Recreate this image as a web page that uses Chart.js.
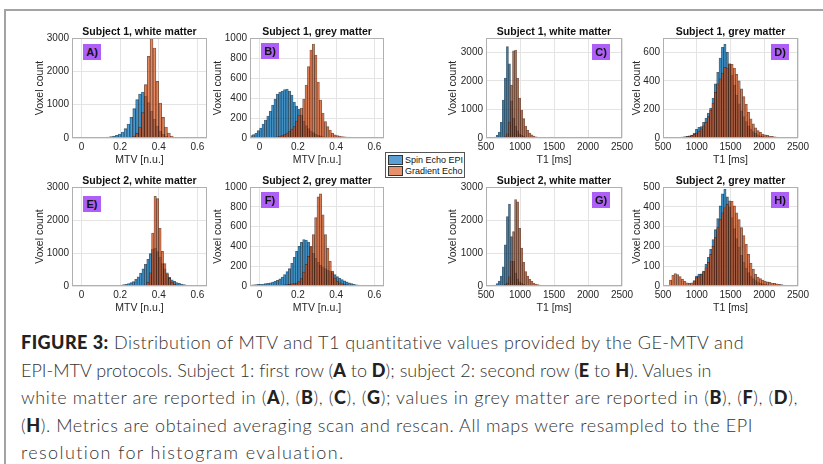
<!DOCTYPE html>
<html>
<head>
<meta charset="utf-8">
<script src="https://cdn.jsdelivr.net/npm/chart.js@4.4.1/dist/chart.umd.min.js"></script>
<style>
  html, body { margin: 0; padding: 0; background: #fff; }
  body { width: 823px; height: 464px; overflow: hidden; position: relative; }
  #frame { position: absolute; left: 4px; top: 9px; width: 900px; height: 600px;
           border-top: 2px solid #a3a3a3; border-left: 2px solid #a3a3a3; }
  canvas { position: absolute; }
  .tag { position: absolute; width: 18px; height: 16px; background: #ad5ff7;
         font: bold 11px "Liberation Sans", Arial, sans-serif; color: #111;
         line-height: 16px; text-align: center; }
  #legend { position: absolute; left: 385px; top: 152px; width: 78px; height: 24px;
            border: 1px solid #555; background: #fff;
            font: 9px "Liberation Sans", Arial, sans-serif; color: #111; }
  #legend .row { position: absolute; left: 2px; height: 11px; line-height: 10px; white-space: nowrap; }
  #legend .sw { display: inline-block; width: 13px; height: 8px; border: 1px solid #333;
                vertical-align: top; margin-right: 2px; }
  #caption { position: absolute; left: 21px; top: 329px;
             font: 300 18px Lato, "Open Sans", sans-serif; color: #333; }
  #caption .line { height: 27.5px; line-height: 27.5px; white-space: nowrap; }
  #caption .line span { display: inline-block; }
  #caption b { font-weight: 900; color: #222; }
</style>
</head>
<body>
<div id="frame"></div>
<div id="figure"></div>

<div class="tag" style="left:83px;top:44px">A)</div>
<div class="tag" style="left:261px;top:43px">B)</div>
<div class="tag" style="left:592px;top:44px">C)</div>
<div class="tag" style="left:771px;top:44px">D)</div>
<div class="tag" style="left:83px;top:196px">E)</div>
<div class="tag" style="left:261px;top:192px">F)</div>
<div class="tag" style="left:592px;top:192px">G)</div>
<div class="tag" style="left:771px;top:192px">H)</div>

<div id="legend">
  <div class="row" style="top:2px"><span class="sw" style="background:rgb(90,160,212)"></span>Spin Echo EPI</div>
  <div class="row" style="top:13px"><span class="sw" style="background:rgb(230,145,108)"></span>Gradient Echo</div>
</div>

<div id="caption">
  <div class="line"><span data-w="724"><b>FIGURE 3:</b> Distribution of MTV and T1 quantitative values provided by the GE-MTV and</span></div>
  <div class="line"><span data-w="690">EPI-MTV protocols. Subject 1: first row (<b>A</b> to <b>D</b>); subject 2: second row (<b>E</b> to <b>H</b>). Values in</span></div>
  <div class="line"><span data-w="776">white matter are reported in (<b>A</b>), (<b>B</b>), (<b>C</b>), (<b>G</b>); values in grey matter are reported in (<b>B</b>), (<b>F</b>), (<b>D</b>),</span></div>
  <div class="line"><span data-w="732">(<b>H</b>). Metrics are obtained averaging scan and rescan. All maps were resampled to the EPI</span></div>
  <div class="line"><span data-w="374">resolution for histogram evaluation.</span></div>
</div>

<script>
// ===== Ticks =====
const mtvTicks = [0, 0.2, 0.4, 0.6];
const t1Ticks = [500, 1000, 1500, 2000, 2500];
const ticks3000 = [0, 1000, 2000, 3000];
const ticks1000 = [0, 200, 400, 600, 800, 1000];
const ticks600 = [0, 200, 400, 600];
const ticks500 = [0, 100, 200, 300, 400, 500];
const seriesNames = ['Spin Echo EPI', 'Gradient Echo'];

// ===== Histogram counts, one bin per entry =====
// A) subject 1, white matter, MTV
const aBinStart = 0.07, aBinWidth = 0.015;
const aSpinEcho = [7, 10, 14, 20, 28, 40, 55, 80, 120, 180, 280, 420, 620, 880, 1150,
  1320, 1380, 1260, 1060, 800, 560, 360, 210, 120, 60, 30, 12, 5];
const aGradEcho = [0, 0, 0, 0, 0, 0, 0, 0, 0, 5, 10, 18, 30, 60, 140,
  330, 760, 1600, 2450, 2990, 2700, 1700, 1050, 620, 330, 150, 60, 20];

// B) subject 1, grey matter, MTV
const bBinStart = -0.05, bBinWidth = 0.0125;
const bSpinEcho = [25, 35, 50, 75, 100, 140, 180, 220, 270, 330, 390, 440, 460, 470, 485,
  490, 470, 430, 360, 320, 290, 230, 170, 125, 95, 70, 55, 40, 30, 22,
  15, 10, 8, 5, 4, 3, 2, 2, 1, 1, 1, 0, 0, 0, 0, 0, 0, 0, 0, 0, 0, 0];
const bGradEcho = [0, 0, 0, 0, 0, 0, 0, 2, 3, 5, 8, 12, 18, 25, 35,
  50, 65, 90, 115, 170, 230, 300, 390, 530, 715, 880, 940, 830, 560, 380,
  250, 165, 115, 80, 50, 32, 25, 20, 15, 12, 10, 8, 7, 6, 5, 4, 3, 2, 2, 1, 1, 0];

// C) subject 1, white matter, T1
const cBinStart = 560, cBinWidth = 30;
const cSpinEcho = [5, 15, 35, 90, 210, 550, 1330, 2100, 3200, 2600, 1300, 700, 420, 250, 150,
  90, 55, 35, 22, 14, 9, 6, 4, 2, 1, 0, 0, 0, 0, 0, 0];
const cGradEcho = [0, 0, 0, 0, 0, 3, 10, 40, 150, 560, 1850, 3050, 3080, 2100, 1400,
  980, 680, 420, 270, 170, 110, 70, 45, 30, 20, 14, 10, 7, 5, 3, 2];

// D) subject 1, grey matter, T1
const dBinStart = 560, dBinWidth = 35;
const dSpinEcho = [1, 1, 2, 2, 3, 4, 6, 8, 11, 15, 20, 35, 60, 75, 80,
  110, 140, 175, 210, 280, 380, 460, 560, 635, 655, 600, 520, 440, 370, 300,
  240, 190, 150, 115, 85, 62, 45, 32, 23, 16, 11, 8, 6, 4, 3, 2, 2, 1, 1, 0, 0, 0];
const dGradEcho = [2, 3, 3, 4, 5, 5, 6, 8, 10, 14, 18, 25, 35, 48, 65,
  85, 110, 150, 195, 245, 320, 380, 415, 455, 495, 490, 520, 515, 490, 445,
  400, 345, 290, 235, 180, 135, 100, 72, 52, 40, 28, 22, 18, 14, 11, 9, 7, 5, 3, 2, 1, 1];

// E) subject 2, white matter, MTV
const eBinStart = 0.1, eBinWidth = 0.0125;
const eSpinEcho = [3, 4, 5, 7, 9, 12, 16, 22, 30, 40, 50, 75, 100, 135, 200,
  280, 390, 520, 660, 810, 980, 1120, 1150, 1040, 870, 680, 520, 360, 260, 190,
  140, 105, 80, 60, 42, 30, 20, 12, 6, 3];
const eGradEcho = [0, 0, 0, 0, 0, 0, 0, 0, 0, 0, 0, 0, 0, 0, 2,
  3, 5, 10, 30, 110, 400, 1600, 2720, 2650, 1750, 1050, 680, 400, 230, 120,
  60, 30, 15, 8, 4, 2, 0, 0, 0, 0];

// F) subject 2, grey matter, MTV
const fBinStart = -0.05, fBinWidth = 0.0125;
const fSpinEcho = [10, 12, 14, 16, 18, 20, 24, 28, 33, 40, 48, 58, 72, 90, 115,
  145, 175, 230, 290, 350, 400, 440, 470, 465, 440, 390, 330, 280, 240, 210,
  190, 175, 160, 150, 135, 115, 95, 80, 65, 52, 42, 32, 24, 18, 13, 9, 6, 4, 3, 2, 1, 1];
const fGradEcho = [0, 0, 0, 0, 0, 0, 1, 2, 3, 4, 5, 6, 7, 9, 11,
  14, 17, 21, 25, 30, 45, 75, 140, 220, 300, 400, 520, 690, 900, 930,
  720, 520, 380, 250, 150, 80, 50, 32, 22, 15, 11, 8, 6, 4, 3, 2, 2, 1, 1, 0, 0, 0];

// G) subject 2, white matter, T1
const gBinStart = 560, gBinWidth = 30;
const gSpinEcho = [8, 15, 30, 70, 150, 300, 580, 1250, 2100, 2480, 1500, 750, 400, 220, 130,
  80, 50, 30, 20, 13, 8, 5, 3, 2, 1, 0, 0, 0, 0, 0, 0];
const gGradEcho = [0, 0, 0, 0, 2, 5, 15, 40, 90, 280, 740, 1650, 2620, 2550, 1750,
  1150, 720, 440, 300, 200, 140, 90, 60, 40, 28, 18, 12, 8, 5, 3, 2];

// H) subject 2, grey matter, T1
const hBinStart = 560, hBinWidth = 35;
const hSpinEcho = [0, 0, 0, 0, 0, 0, 0, 0, 0, 0, 5, 25, 50, 60, 62,
  75, 110, 145, 185, 235, 285, 340, 405, 465, 488, 450, 400, 345, 290, 240,
  195, 155, 120, 90, 68, 50, 37, 28, 20, 15, 11, 8, 6, 4, 3, 2, 2, 1, 1, 0, 0, 0];
const hGradEcho = [0, 30, 55, 63, 58, 48, 35, 24, 16, 13, 16, 28, 42, 47, 58,
  72, 92, 120, 160, 200, 245, 295, 335, 370, 395, 412, 430, 428, 405, 370,
  335, 295, 255, 210, 160, 115, 85, 60, 45, 37, 30, 25, 21, 18, 15, 13, 11, 9, 7, 5, 4, 3];

// ===== Styles =====
const FONT = '"Liberation Sans", Arial, sans-serif';
const SPIN_FILL = 'rgba(0, 114, 189, 0.68)';
const GRAD_FILL = 'rgba(217, 83, 25, 0.68)';
const EDGE = 'rgba(0, 0, 0, 0.6)';
const TEXT = '#262626';
const GRID = '#e4e4e4';

// ===== Panel layout (plot box = left, top, right, bottom in page pixels) =====
const panels = [
  { title: 'Subject 1, white matter', xTitle: 'MTV [n.u.]', box: [72, 38, 207, 138], xMin: -0.05, xMax: 0.65, xTicks: mtvTicks,
    yMax: 3000, yTicks: ticks3000, start: aBinStart, width: aBinWidth, spin: aSpinEcho, grad: aGradEcho, yPad: 2 },
  { title: 'Subject 1, grey matter', xTitle: 'MTV [n.u.]', box: [250, 38, 384, 138], xMin: -0.05, xMax: 0.65, xTicks: mtvTicks,
    yMax: 1000, yTicks: ticks1000, start: bBinStart, width: bBinWidth, spin: bSpinEcho, grad: bGradEcho, yPad: 2 },
  { title: 'Subject 1, white matter', xTitle: 'T1 [ms]', box: [486, 38, 622, 138], xMin: 500, xMax: 2500, xTicks: t1Ticks,
    yMax: 3500, yTicks: ticks3000, start: cBinStart, width: cBinWidth, spin: cSpinEcho, grad: cGradEcho, yPad: 1 },
  { title: 'Subject 1, grey matter', xTitle: 'T1 [ms]', box: [663, 38, 798, 138], xMin: 500, xMax: 2500, xTicks: t1Ticks,
    yMax: 700, yTicks: ticks600, start: dBinStart, width: dBinWidth, spin: dSpinEcho, grad: dGradEcho, yPad: 8 },
  { title: 'Subject 2, white matter', xTitle: 'MTV [n.u.]', box: [72, 187, 207, 286], xMin: -0.05, xMax: 0.65, xTicks: mtvTicks,
    yMax: 3000, yTicks: ticks3000, start: eBinStart, width: eBinWidth, spin: eSpinEcho, grad: eGradEcho, yPad: 2 },
  { title: 'Subject 2, grey matter', xTitle: 'MTV [n.u.]', box: [250, 187, 384, 286], xMin: -0.05, xMax: 0.65, xTicks: mtvTicks,
    yMax: 1000, yTicks: ticks1000, start: fBinStart, width: fBinWidth, spin: fSpinEcho, grad: fGradEcho, yPad: 2 },
  { title: 'Subject 2, white matter', xTitle: 'T1 [ms]', box: [486, 187, 622, 286], xMin: 500, xMax: 2500, xTicks: t1Ticks,
    yMax: 3000, yTicks: ticks3000, start: gBinStart, width: gBinWidth, spin: gSpinEcho, grad: gGradEcho, yPad: 1 },
  { title: 'Subject 2, grey matter', xTitle: 'T1 [ms]', box: [663, 187, 798, 286], xMin: 500, xMax: 2500, xTicks: t1Ticks,
    yMax: 500, yTicks: ticks500, start: hBinStart, width: hBinWidth, spin: hSpinEcho, grad: hGradEcho, yPad: 8 }
];

// bin centres from the bin layout
function toPoints(start, width, counts) {
  return counts.map((c, i) => ({ x: start + width * (i + 0.5), y: c }));
}

// grey box round the plot area
const plotBox = {
  id: 'plotBox',
  afterDraw(chart) {
    const { ctx, chartArea: a } = chart;
    ctx.save();
    ctx.strokeStyle = '#b0b0b0';
    ctx.lineWidth = 1;
    ctx.strokeRect(a.left + 0.5, a.top + 0.5, a.right - a.left - 1, a.bottom - a.top - 1);
    ctx.restore();
  }
};

// ===== Build the charts =====
const figure = document.getElementById('figure');

panels.forEach(p => {
  const [left, top, right, bottom] = p.box;
  const canvas = document.createElement('canvas');
  canvas.width = right - left + 90;
  canvas.height = bottom - top + 50;
  canvas.style.left = (left - 45) + 'px';
  canvas.style.top = (top - 16) + 'px';
  figure.appendChild(canvas);

  new Chart(canvas, {
    type: 'bar',
    data: {
      datasets: [
        { label: seriesNames[0], data: toPoints(p.start, p.width, p.spin), backgroundColor: SPIN_FILL, order: 2 },
        { label: seriesNames[1], data: toPoints(p.start, p.width, p.grad), backgroundColor: GRAD_FILL, order: 1 }
      ]
    },
    options: {
      responsive: false,
      animation: false,
      devicePixelRatio: 1,
      layout: { padding: { left: 5, right: 45, top: 0, bottom: 2 } },
      datasets: {
        bar: { grouped: false, barPercentage: 1, categoryPercentage: 1,
               borderColor: EDGE, borderWidth: 0.5, borderSkipped: 'start' }
      },
      plugins: {
        legend: { display: false },
        tooltip: { enabled: false },
        title: {
          display: true, text: p.title, fullSize: false, color: '#111',
          font: { family: FONT, size: 10.5, weight: 'bold', lineHeight: '12px' },
          padding: { top: 4, bottom: 0 }
        }
      },
      scales: {
        x: {
          type: 'linear', min: p.xMin, max: p.xMax, offset: false,
          afterBuildTicks: s => { s.ticks = p.xTicks.map(v => ({ value: v })); },
          afterFit: s => { s.height = 32; },
          grid: { color: GRID, offset: false, drawTicks: false },
          border: { display: false },
          ticks: { color: TEXT, padding: 3, maxRotation: 0, font: { family: FONT, size: 10 }, callback: v => String(v) },
          title: { display: true, text: p.xTitle, color: TEXT, padding: { top: 0, bottom: 3 },
                   font: { family: FONT, size: 10.5, lineHeight: '13px' } }
        },
        y: {
          min: 0, max: p.yMax,
          afterBuildTicks: s => { s.ticks = p.yTicks.map(v => ({ value: v })); },
          afterFit: s => { s.width = 40; },
          grid: { color: GRID, drawTicks: false },
          border: { display: false },
          ticks: { color: TEXT, padding: 3, font: { family: FONT, size: 10 }, callback: v => String(v) },
          title: { display: true, text: 'Voxel count', color: TEXT, padding: { top: p.yPad, bottom: 0 },
                   font: { family: FONT, size: 10.5, lineHeight: '13px' } }
        }
      }
    },
    plugins: [plotBox]
  });
});

// ===== Caption: stretch each line a little so it ends where the original does =====
function fitCaption() {
  document.querySelectorAll('#caption .line span').forEach(span => {
    span.style.letterSpacing = '0px';
    const diff = +span.dataset.w - span.getBoundingClientRect().width;
    const ls = Math.max(-1, Math.min(1.4, diff / span.textContent.length));
    span.style.letterSpacing = ls + 'px';
  });
}
fitCaption();
if (document.fonts) document.fonts.ready.then(fitCaption);
</script>
</body>
</html>
